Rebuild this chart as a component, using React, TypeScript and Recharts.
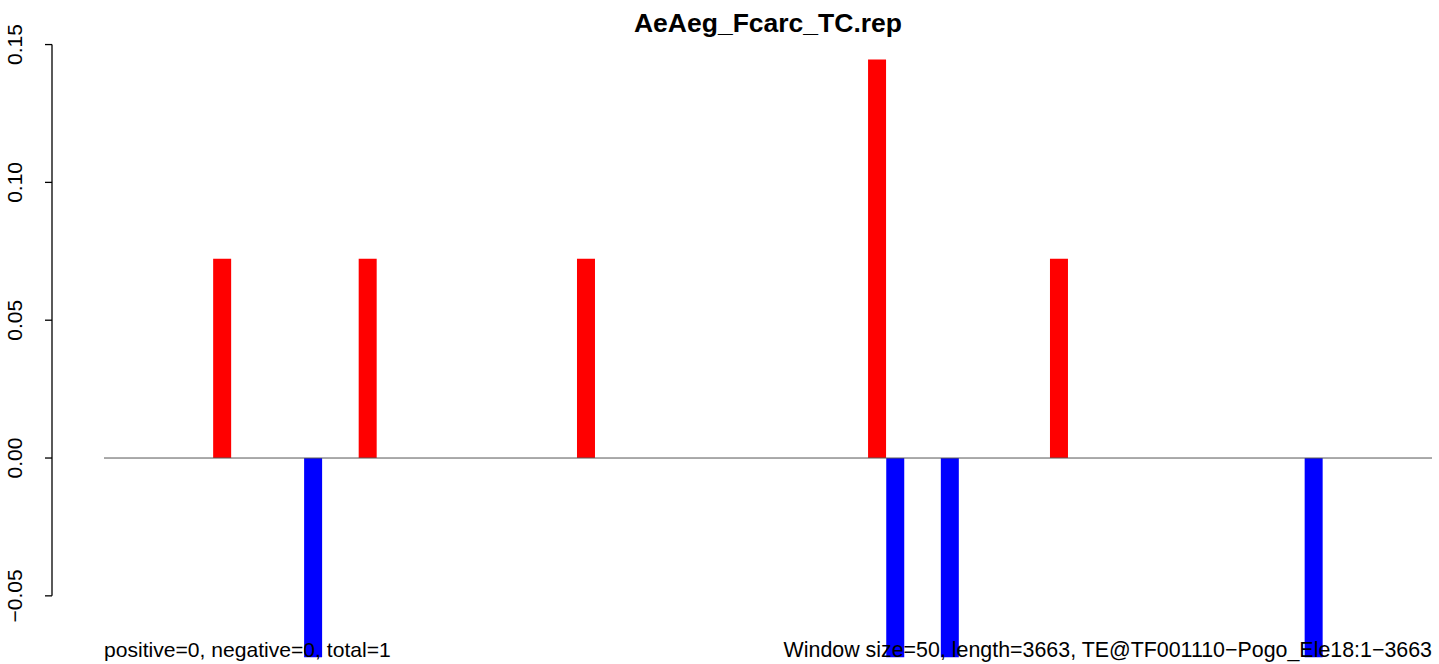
import { BarChart, Bar, XAxis, YAxis, ReferenceLine } from "recharts";

document.body.style.margin = "0";

// 3663 bp split in 50 bp windows -> 73 windows
const WINDOW_COUNT = 73;
const posWindows = [6, 14, 26, 42, 52];
const posValues = [0.0723, 0.0723, 0.0723, 0.1446, 0.0723];
const negWindows = [11, 43, 46, 66];
const negValues = [-0.0723, -0.0723, -0.0723, -0.0723];
const yTicks = [-0.05, 0, 0.05, 0.1, 0.15];

const TITLE = "AeAeg_Fcarc_TC.rep";
const NOTE_LEFT = "positive=0, negative=0, total=1";
const NOTE_RIGHT = "Window size=50, length=3663, TE@TF001110\u2212Pogo_Ele18:1\u22123663";

const W = 1439;
const H = 664;
const MARGIN = { top: 17, right: 7, bottom: 2, left: 0 };
const Y_MIN = -0.074;
const Y_MAX = 0.16;
const FONT = "'Liberation Sans', Arial, Helvetica, sans-serif";

const data = Array.from({ length: WINDOW_COUNT }, (_, i) => {
    const p = posWindows.indexOf(i);
    const n = negWindows.indexOf(i);
    return {
        win: i + 1,
        pos: p >= 0 ? posValues[p] : 0,
        neg: n >= 0 ? negValues[n] : 0,
    };
});

const plotHeight = H - MARGIN.top - MARGIN.bottom;
const pxPerUnit = plotHeight / (Y_MAX - Y_MIN);

function fmt(v: number) {
    return v.toFixed(2).replace("-", "\u2212");
}

function YTick(props: any) {
    const { y, payload } = props;
    const v = payload.value as number;
    const isLowest = Math.abs(v - yTicks[0]) < 1e-9;
    const span = (yTicks[yTicks.length - 1] - yTicks[0]) * pxPerUnit;
    return (
        <g>
            <line x1={52} x2={45} y1={y} y2={y} stroke="#000" strokeWidth={1.3} />
            {isLowest && <line x1={52} x2={52} y1={y} y2={y - span} stroke="#000" strokeWidth={1.3} />}
            <text
                x={22}
                y={y}
                transform={`rotate(-90, 22, ${y})`}
                textAnchor="middle"
                fontSize={21}
                fontFamily={FONT}
                fill="#000"
            >
                {fmt(v)}
            </text>
        </g>
    );
}

export default function App() {
    return (
        <div style={{ position: "relative", width: W, height: H, background: "#fff" }}>
            <BarChart
                width={W}
                height={H}
                data={data}
                margin={MARGIN}
                barCategoryGap={0}
                barGap={0}
                stackOffset="sign"
            >
                <XAxis dataKey="win" hide />
                <YAxis
                    width={104}
                    domain={[Y_MIN, Y_MAX]}
                    ticks={yTicks}
                    axisLine={false}
                    tickLine={false}
                    tick={<YTick />}
                    interval={0}
                />
                <Bar dataKey="pos" stackId="w" fill="#ff0000" isAnimationActive={false} />
                <Bar dataKey="neg" stackId="w" fill="#0000ff" isAnimationActive={false} />
                <ReferenceLine y={0} stroke="#555555" strokeWidth={1} />
            </BarChart>
            <svg
                width={W}
                height={H}
                style={{ position: "absolute", left: 0, top: 0, pointerEvents: "none" }}
            >
                <text x={768} y={32} textAnchor="middle" fontSize={26.5} fontWeight="bold" fontFamily={FONT} fill="#000">
                    {TITLE}
                </text>
                <text x={104} y={657} fontSize={21.1} fontFamily={FONT} fill="#000">
                    {NOTE_LEFT}
                </text>
                <text x={1432} y={657} textAnchor="end" fontSize={21.4} fontFamily={FONT} fill="#000">
                    {NOTE_RIGHT}
                </text>
            </svg>
        </div>
    );
}
